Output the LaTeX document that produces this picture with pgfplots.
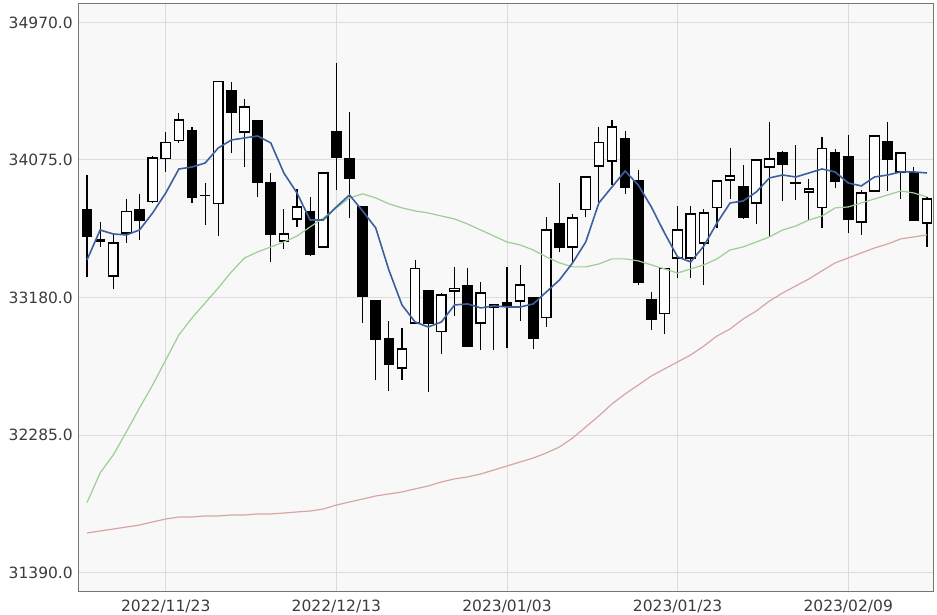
\documentclass[border=0pt]{standalone}
\usepackage{fontspec}
\setmainfont{DejaVu Sans}
\usepackage{pgfplots}
\pgfplotsset{compat=1.18}
\usepackage{pgfplotstable}

\definecolor{bgc}{HTML}{F8F8F8}
\definecolor{gridc}{HTML}{DCDCDC}
\definecolor{framec}{HTML}{767676}
\definecolor{ma5c}{HTML}{3D5F9E}
\definecolor{ma25c}{HTML}{9CCF94}
\definecolor{ma75c}{HTML}{D6A7A2}
\definecolor{labc}{HTML}{3C3C3C}

% candle: index, open, high, low, close
\newcommand\candle[5]{%
  \edef\cXa{\fpeval{#1-0.36}}%
  \edef\cXb{\fpeval{#1+0.36}}%
  \ifnum\fpeval{#5<#2}=1 \def\cFill{black}\else\def\cFill{white}\fi
  \edef\cTmp{%
    \noexpand\addplot[black, line width=1.2pt] coordinates {(#1,#4) (#1,#3)};
    \noexpand\addplot[draw=black, fill=\cFill, line width=1.2pt, line cap=rect, line join=miter]
      coordinates {(\cXa,#2) (\cXb,#2) (\cXb,#5) (\cXa,#5) (\cXa,#2)};}%
  \cTmp
}

\pgfplotstableread{
i ma5 ma25 ma75
0 33424 31845 31647
1 33619 32038 31660
2 33593 32155 31673
3 33587 32305 31686
4 33619 32461 31699
5 33730 32610 31719
6 33860 32773 31738
7 34016 32936 31751
8 34029 33047 31751
9 34055 33144 31758
10 34153 33242 31758
11 34205 33346 31764
12 34218 33437 31764
13 34231 33476 31771
14 34186 33509 31771
15 33990 33541 31777
16 33860 33580 31784
17 33684 33639 31790
18 33684 33697 31803
19 33769 33763 31829
20 33847 33828 31849
21 33743 33854 31868
22 33632 33828 31888
23 33359 33789 31901
24 33131 33763 31914
25 33020 33743 31934
26 32988 33730 31953
27 33020 33710 31979
28 33131 33691 31999
29 33138 33658 32012
30 33112 33619 32031
31 33125 33580 32057
32 33118 33541 32083
33 33118 33522 32109
34 33138 33489 32135
35 33216 33444 32168
36 33294 33405 32207
37 33405 33379 32265
38 33541 33379 32337
39 33795 33398 32409
40 33899 33431 32487
41 34003 33431 32552
42 33912 33418 32610
43 33769 33392 32669
44 33600 33366 32715
45 33444 33339 32760
46 33411 33366 32806
47 33515 33392 32864
48 33665 33431 32929
49 33795 33489 32975
50 33808 33509 33040
51 33867 33541 33092
52 33958 33574 33157
53 33977 33619 33209
54 33964 33645 33255
55 33990 33684 33300
56 34016 33710 33353
57 33997 33763 33405
58 33925 33769 33437
59 33906 33795 33470
60 33964 33821 33502
61 33977 33847 33528
62 33997 33873 33561
63 33997 33860 33574
64 33990 33834 33587
}\matab

\begin{document}
\begin{tikzpicture}
\begin{axis}[
  name=main,
  scale only axis,
  width=854pt, height=588pt,
  xmin=-0.61, xmax=64.46,
  ymin=31263, ymax=35090,
  axis background/.style={fill=bgc},
  axis line style={framec, line width=1pt},
  xtick={6,19,32,45,58},
  xticklabels={2022/11/23, 2022/12/13, 2023/01/03, 2023/01/23, 2023/02/09},
  ytick={31390,32285,33180,34075,34970},
  yticklabels={31390.0, 32285.0, 33180.0, 34075.0, 34970.0},
  grid=major,
  major grid style={gridc, line width=0.9pt},
  major tick length=0pt,
  tick style={draw=none},
  ticklabel style={font=\fontsize{15.5}{18}\selectfont, text=labc},
  yticklabel style={inner sep=0pt, xshift=-6pt},
  xticklabel style={inner sep=0pt, yshift=-8pt},
]
\candle{0}{33750}{33977}{33313}{33580}
\candle{1}{33555}{33671}{33509}{33548}
\candle{2}{33320}{33600}{33235}{33535}
\candle{3}{33600}{33821}{33535}{33737}
\candle{4}{33750}{33854}{33554}{33684}
\candle{5}{33802}{34101}{33795}{34088}
\candle{6}{34082}{34257}{33997}{34186}
\candle{7}{34199}{34381}{34186}{34335}
\candle{8}{34264}{34290}{33795}{33834}
\candle{9}{33845}{33925}{33652}{33841}
\candle{10}{33789}{34583}{33580}{34583}
\candle{11}{34524}{34583}{34121}{34387}
\candle{12}{34257}{34472}{34029}{34420}
\candle{13}{34329}{34335}{33834}{33932}
\candle{14}{33925}{33990}{33411}{33593}
\candle{15}{33548}{33756}{33496}{33593}
\candle{16}{33691}{33886}{33639}{33769}
\candle{17}{33737}{33834}{33450}{33463}
\candle{18}{33509}{33990}{33509}{33990}
\candle{19}{34257}{34706}{33880}{34094}
\candle{20}{34081}{34387}{33697}{33958}
\candle{21}{33769}{33769}{33014}{33190}
\candle{22}{33157}{33157}{32643}{32910}
\candle{23}{32910}{33027}{32571}{32747}
\candle{24}{32721}{32981}{32643}{32845}
\candle{25}{33014}{33424}{33014}{33366}
\candle{26}{33222}{33222}{32565}{33014}
\candle{27}{32956}{33209}{32812}{33196}
\candle{28}{33222}{33379}{33060}{33240}
\candle{29}{33255}{33372}{32864}{32864}
\candle{30}{33014}{33281}{32838}{33209}
\candle{31}{33118}{33140}{32838}{33131}
\candle{32}{33144}{33379}{32851}{33125}
\candle{33}{33157}{33392}{33027}{33261}
\candle{34}{33177}{33177}{32845}{32916}
\candle{35}{33047}{33704}{32988}{33619}
\candle{36}{33658}{33925}{33476}{33509}
\candle{37}{33509}{33723}{33411}{33697}
\candle{38}{33750}{33964}{33704}{33964}
\candle{39}{34036}{34290}{33802}{34186}
\candle{40}{34068}{34335}{33912}{34290}
\candle{41}{34212}{34264}{33854}{33899}
\candle{42}{33938}{34010}{33261}{33281}
\candle{43}{33164}{33216}{32968}{33034}
\candle{44}{33073}{33366}{32942}{33366}
\candle{45}{33437}{33776}{33307}{33619}
\candle{46}{33437}{33776}{33307}{33723}
\candle{47}{33535}{33756}{33261}{33730}
\candle{48}{33763}{33938}{33632}{33938}
\candle{49}{33945}{34153}{33821}{33971}
\candle{50}{33899}{34042}{33691}{33704}
\candle{51}{33795}{34081}{33658}{34075}
\candle{52}{34029}{34322}{33574}{34081}
\candle{53}{34120}{34134}{33808}{34049}
\candle{54}{33930}{34173}{33815}{33925}
\candle{55}{33867}{33951}{33684}{33886}
\candle{56}{33763}{34225}{33632}{34147}
\candle{57}{34120}{34147}{33893}{33938}
\candle{58}{34094}{34238}{33600}{33691}
\candle{59}{33671}{33880}{33587}{33860}
\candle{60}{33873}{34238}{33873}{34231}
\candle{61}{34192}{34322}{33873}{34081}
\candle{62}{33997}{34120}{33821}{34120}
\candle{63}{33990}{34029}{33684}{33684}
\candle{64}{33665}{33834}{33509}{33821}
\addplot[ma75c, line width=1.2pt] table[x=i, y=ma75] {\matab};
\addplot[ma25c, line width=1.2pt] table[x=i, y=ma25] {\matab};
\addplot[ma5c, line width=1.6pt] table[x=i, y=ma5] {\matab};
\end{axis}
\pgfresetboundingbox
\path[use as bounding box] ([shift={(-79pt,-23pt)}]main.south west) rectangle ([shift={(4pt,4pt)}]main.north east);
\end{tikzpicture}
\end{document}
